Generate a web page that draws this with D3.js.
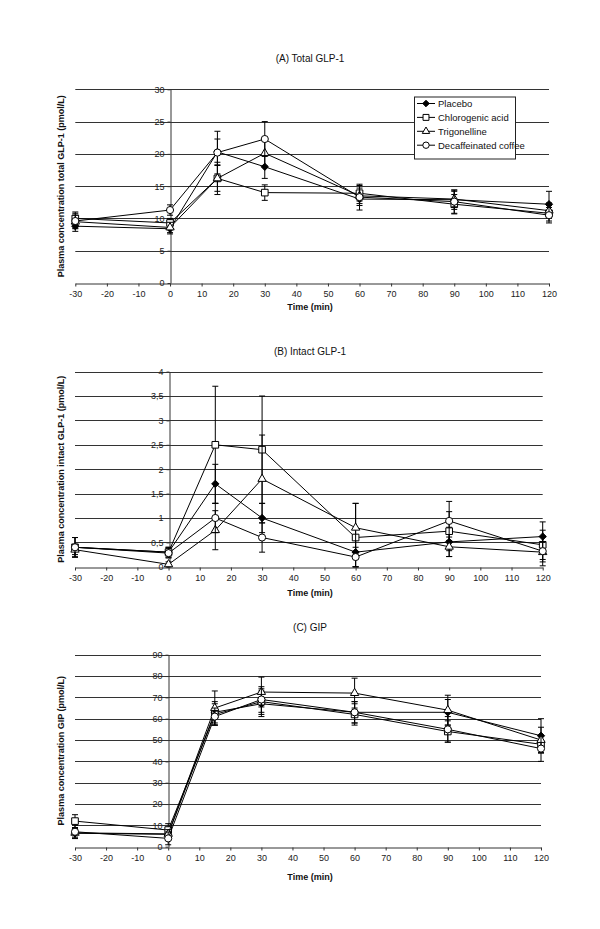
<!DOCTYPE html>
<html>
<head>
<meta charset="utf-8">
<script src="https://cdn.jsdelivr.net/npm/d3@7"></script>
<style>
  body { margin: 0; background: #fff; }
  svg { display: block; font-family: "Liberation Sans", Arial, sans-serif; }
</style>
</head>
<body>
<div id="chart"></div>
<script>
const times = [-30, 0, 15, 30, 60, 90, 120];
const xTicks = d3.range(-30, 121, 10);
const seriesNames = ['Placebo', 'Chlorogenic acid', 'Trigonelline', 'Decaffeinated coffee'];

// (A) total GLP-1, rows in series order
const totalMeans = [
  [8.8, 8.4, 20.3, 18.0, 13.0, 12.9, 12.2],
  [10.0, 9.3, 16.2, 14.0, 13.9, 12.2, 10.8],
  [9.5, 8.6, 16.2, 20.1, 13.5, 13.0, 11.2],
  [9.6, 11.3, 20.2, 22.3, 13.3, 12.6, 10.5]
];
const totalErrs = [
  [0.8, 0.8, 2.0, 1.8, 1.0, 1.5, 2.0],
  [1.0, 0.7, 2.0, 1.2, 1.2, 1.5, 1.2],
  [1.0, 0.8, 2.5, 2.0, 1.2, 1.2, 1.2],
  [1.2, 0.8, 3.3, 2.7, 2.0, 1.8, 1.2]
];

// (B) intact GLP-1
const intactMeans = [
  [0.40, 0.30, 1.70, 1.00, 0.30, 0.51, 0.62],
  [0.40, 0.30, 2.50, 2.40, 0.60, 0.73, 0.45],
  [0.35, 0.05, 0.75, 1.80, 0.80, 0.41, 0.30],
  [0.40, 0.28, 1.00, 0.60, 0.20, 0.94, 0.32]
];
const intactErrs = [
  [0.20, 0.10, 0.40, 0.30, 0.30, 0.30, 0.30],
  [0.20, 0.10, 1.20, 1.10, 0.70, 0.40, 0.30],
  [0.10, 0.05, 0.40, 0.90, 0.50, 0.20, 0.20],
  [0.20, 0.10, 0.30, 0.30, 0.20, 0.40, 0.30]
];

// (C) GIP
const gipMeans = [
  [6.3, 5.8, 63, 67, 63, 63, 52],
  [12.0, 7.8, 62, 68, 62, 54, 48],
  [6.5, 6.0, 65, 72.5, 72, 64, 50],
  [7.0, 3.9, 61, 69, 63, 55, 46]
];
const gipErrs = [
  [2.5, 2, 5, 6, 5, 6, 8],
  [3, 3, 5, 6, 5, 5, 4],
  [2, 2, 8, 7, 7, 7, 6],
  [3, 3, 4, 6, 5, 6, 6]
];

const panels = [
  { title: '(A) Total GLP-1', titleY: 62, yLabel: 'Plasma concentration total GLP-1 (pmol/L)',
    means: totalMeans, errs: totalErrs, yMax: 30, yStep: 5,
    x0: 75.3, x1: 549, yTop: 89.3, yBot: 283, xTitleY: 310, legend: true },
  { title: '(B) Intact GLP-1', titleY: 355, yLabel: 'Plasma concentration intact GLP-1 (pmol/L)',
    means: intactMeans, errs: intactErrs, yMax: 4, yStep: 0.5,
    x0: 75, x1: 542.7, yTop: 371.6, yBot: 566.8, xTitleY: 596 },
  { title: '(C) GIP', titleY: 631, yLabel: 'Plasma concentration GIP (pmol/L)',
    means: gipMeans, errs: gipErrs, yMax: 90, yStep: 10,
    x0: 75, x1: 541, yTop: 654.7, yBot: 846.7, xTitleY: 880 }
];

const symbols = [d3.symbolDiamond2, d3.symbolSquare, d3.symbolTriangle, d3.symbolCircle];
const symbolSizes = [34, 44, 30, 40];
const symbolFills = ['#000', '#fff', '#fff', '#fff'];

const svg = d3.select('#chart').append('svg')
  .attr('width', 600)
  .attr('height', 929);

// plain hyphen for negatives, comma decimal separator
const fmt = v => String(+v.toFixed(2)).replace('.', ',');

panels.forEach(p => drawPanel(p));

function drawPanel(p) {
  const x = d3.scaleLinear().domain([-30, 120]).range([p.x0, p.x1]);
  const y = d3.scaleLinear().domain([0, p.yMax]).range([p.yBot, p.yTop]);
  const g = svg.append('g');
  const yTicks = d3.range(0, p.yMax + p.yStep / 2, p.yStep);

  // gridlines
  g.append('g').selectAll('line')
    .data(yTicks.filter(v => v > 0))
    .join('line')
    .attr('x1', p.x0).attr('x2', p.x1)
    .attr('y1', d => Math.round(y(d)) + 0.5).attr('y2', d => Math.round(y(d)) + 0.5)
    .attr('stroke', '#333').attr('stroke-width', 1);

  // x axis at y = 0
  const xAxis = g.append('g')
    .attr('transform', `translate(0,${Math.round(y(0)) + 0.5})`)
    .call(d3.axisBottom(x).tickValues(xTicks).tickSize(3).tickPadding(4).tickSizeOuter(0).tickFormat(fmt));
  xAxis.select('.domain').attr('stroke', '#333');
  xAxis.selectAll('line').attr('stroke', '#333');
  xAxis.selectAll('text').attr('font-size', 9).attr('fill', '#222').attr('font-family', 'Liberation Sans, Arial, sans-serif');

  // y axis at time 0
  const yAxis = g.append('g')
    .attr('transform', `translate(${Math.round(x(0)) + 0.5},0)`)
    .call(d3.axisLeft(y).tickValues(yTicks).tickSize(3).tickPadding(3).tickSizeOuter(0).tickFormat(fmt));
  yAxis.select('.domain').attr('stroke', '#333');
  yAxis.selectAll('line').attr('stroke', '#333');
  yAxis.selectAll('text').attr('font-size', 9).attr('fill', '#222').attr('font-family', 'Liberation Sans, Arial, sans-serif');

  // titles
  g.append('text')
    .attr('x', 310).attr('y', p.titleY)
    .attr('text-anchor', 'middle')
    .attr('font-size', 10).attr('fill', '#111')
    .text(p.title);

  g.append('text')
    .attr('x', 310).attr('y', p.xTitleY)
    .attr('text-anchor', 'middle')
    .attr('font-size', 9).attr('font-weight', 'bold').attr('fill', '#111')
    .text('Time (min)');

  g.append('text')
    .attr('transform', `translate(64,${(p.yTop + p.yBot) / 2}) rotate(-90)`)
    .attr('text-anchor', 'middle')
    .attr('font-size', 9).attr('font-weight', 'bold').attr('fill', '#111')
    .text(p.yLabel);

  const line = d3.line().x(d => x(d.t)).y(d => y(d.v));

  p.means.forEach((row, si) => {
    const pts = row.map((v, i) => ({ t: times[i], v, e: p.errs[si][i] }));
    const sg = g.append('g');

    sg.append('path')
      .datum(pts)
      .attr('d', line)
      .attr('fill', 'none')
      .attr('stroke', '#000')
      .attr('stroke-width', 1);

    // error bars
    const eb = sg.append('g').selectAll('g').data(pts).join('g');
    eb.append('line')
      .attr('x1', d => x(d.t)).attr('x2', d => x(d.t))
      .attr('y1', d => y(Math.min(p.yMax, d.v + d.e))).attr('y2', d => y(Math.max(0, d.v - d.e)))
      .attr('stroke', '#000').attr('stroke-width', 1);
    eb.append('line')
      .attr('x1', d => x(d.t) - 3).attr('x2', d => x(d.t) + 3)
      .attr('y1', d => y(Math.min(p.yMax, d.v + d.e))).attr('y2', d => y(Math.min(p.yMax, d.v + d.e)))
      .attr('stroke', '#000').attr('stroke-width', 1);
    eb.append('line')
      .attr('x1', d => x(d.t) - 3).attr('x2', d => x(d.t) + 3)
      .attr('y1', d => y(Math.max(0, d.v - d.e))).attr('y2', d => y(Math.max(0, d.v - d.e)))
      .attr('stroke', '#000').attr('stroke-width', 1);

    sg.append('g').selectAll('path')
      .data(pts)
      .join('path')
      .attr('transform', d => `translate(${x(d.t)},${y(d.v)})`)
      .attr('d', d3.symbol().type(symbols[si]).size(symbolSizes[si]))
      .attr('fill', symbolFills[si])
      .attr('stroke', '#000')
      .attr('stroke-width', 1);
  });

  if (p.legend) drawLegend(g);
}

function drawLegend(g) {
  const lg = g.append('g').attr('transform', 'translate(414,96.5)');
  lg.append('rect')
    .attr('x', 0.5).attr('y', 0.5)
    .attr('width', 101).attr('height', 62)
    .attr('fill', '#fff').attr('stroke', '#222');
  const rows = lg.selectAll('g.item')
    .data(seriesNames)
    .join('g')
    .attr('class', 'item')
    .attr('transform', (d, i) => `translate(0,${7 + i * 13.9})`);
  rows.append('line')
    .attr('x1', 3).attr('x2', 21)
    .attr('stroke', '#000');
  rows.append('path')
    .attr('transform', 'translate(12,0)')
    .attr('d', (d, i) => d3.symbol().type(symbols[i]).size(symbolSizes[i] * 0.8)())
    .attr('fill', (d, i) => symbolFills[i])
    .attr('stroke', '#000');
  rows.append('text')
    .attr('x', 24).attr('y', 3.5)
    .attr('font-size', 9.5).attr('fill', '#111')
    .text(d => d);
}
</script>
</body>
</html>
